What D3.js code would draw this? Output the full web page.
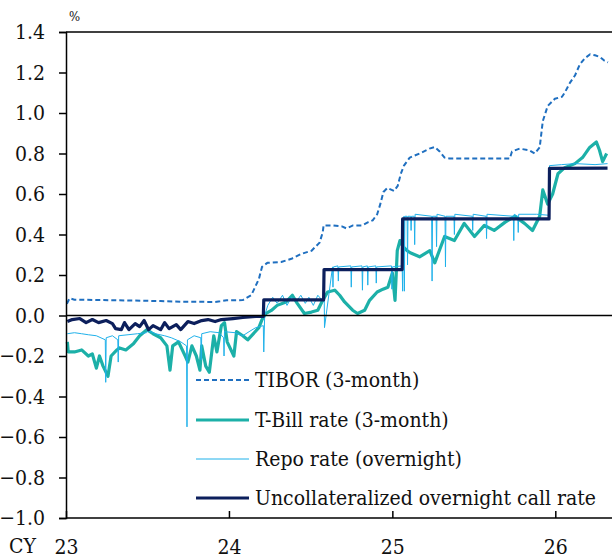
<!DOCTYPE html>
<html>
<head>
<meta charset="utf-8">
<script src="https://cdn.jsdelivr.net/npm/d3@7"></script>
<style>
	body { margin: 0; background: #ffffff; }
	text { fill: #111111; }
</style>
</head>
<body>
<script>
// Y-axis tick values
var yTicks = [1.4, 1.2, 1.0, 0.8, 0.6, 0.4, 0.2, 0.0, -0.2, -0.4, -0.6, -0.8, -1.0];
// X-axis year ticks and labels
var xTickDates = ["2023-01-01", "2024-01-01", "2025-01-01", "2026-01-01"];
var xTickLabels = ["23", "24", "25", "26"];

// TIBOR (3-month)
var tiborDates = ["2023-01-03","2023-01-09","2023-01-20","2023-03-01","2023-06-01","2023-08-01","2023-09-15","2023-12-01","2023-12-12","2023-12-27",
	"2024-02-01","2024-02-20","2024-03-08","2024-03-15","2024-03-27","2024-04-27","2024-05-20","2024-06-12","2024-07-04","2024-07-22",
	"2024-07-29","2024-07-31","2024-08-20","2024-09-10","2024-09-20","2024-10-05","2024-10-25","2024-11-07","2024-11-18","2024-11-28",
	"2024-12-05","2024-12-12","2024-12-21","2025-01-05","2025-01-13","2025-01-20","2025-01-27",
	"2025-02-09","2025-03-03","2025-03-25","2025-04-06","2025-04-17","2025-04-28","2025-05-09","2025-07-16","2025-09-21","2025-09-26",
	"2025-10-13","2025-11-04","2025-11-16","2025-11-27","2025-12-04","2025-12-15","2025-12-31","2026-01-16","2026-01-22","2026-02-03",
	"2026-02-14","2026-02-25","2026-03-08","2026-03-20","2026-03-31","2026-04-11","2026-04-20","2026-04-29"];
var tiborValues = [0.058,0.085,0.078,0.077,0.074,0.071,0.068,0.067,0.070,0.075,
	0.076,0.100,0.180,0.240,0.260,0.264,0.280,0.305,0.320,0.360,
	0.410,0.445,0.445,0.440,0.430,0.445,0.445,0.460,0.470,0.500,
	0.550,0.610,0.630,0.615,0.640,0.700,0.740,
	0.780,0.800,0.824,0.832,0.810,0.780,0.775,0.775,0.775,0.810,
	0.824,0.816,0.800,0.830,0.960,1.035,1.070,1.080,1.100,1.150,
	1.185,1.240,1.270,1.290,1.285,1.277,1.260,1.250];

// T-Bill rate (3-month)
var tbillDates = ["2023-01-04","2023-01-06","2023-01-20","2023-02-05","2023-02-20","2023-03-01","2023-03-10","2023-03-17","2023-03-25","2023-04-05",
	"2023-04-12","2023-04-25","2023-05-01","2023-05-15","2023-06-01","2023-06-15","2023-07-01","2023-07-15","2023-08-01","2023-08-15",
	"2023-08-22","2023-08-28","2023-09-10","2023-09-25","2023-10-01","2023-10-10","2023-10-20","2023-10-28","2023-11-01","2023-11-10",
	"2023-11-18","2023-11-28","2023-12-05","2023-12-15","2023-12-22","2023-12-28","2024-01-12","2024-01-18","2024-02-01","2024-02-12",
	"2024-03-08","2024-03-15","2024-03-24","2024-04-05","2024-04-18","2024-05-08","2024-05-22","2024-06-02","2024-06-18","2024-07-04",
	"2024-07-18","2024-07-29","2024-08-09","2024-08-25","2024-09-05","2024-09-16","2024-10-04","2024-10-15","2024-10-31","2024-11-11",
	"2024-11-28","2024-12-11","2024-12-22","2025-01-01","2025-01-07","2025-01-12","2025-01-18","2025-01-25",
	"2025-02-03","2025-02-10","2025-03-03","2025-03-26","2025-04-06","2025-04-28","2025-05-20","2025-06-11","2025-07-04","2025-07-26",
	"2025-08-17","2025-09-10","2025-10-02","2025-10-24","2025-11-11","2025-11-27","2025-12-04","2025-12-15","2025-12-26","2026-01-07",
	"2026-01-22","2026-02-14","2026-03-03","2026-03-19","2026-04-03","2026-04-10","2026-04-17","2026-04-26"];
var tbillValues = [-0.13,-0.18,-0.18,-0.17,-0.20,-0.19,-0.26,-0.20,-0.25,-0.30,
	-0.20,-0.17,-0.16,-0.17,-0.14,-0.10,-0.07,-0.09,-0.11,-0.15,
	-0.27,-0.15,-0.13,-0.20,-0.23,-0.15,-0.20,-0.27,-0.15,-0.25,
	-0.28,-0.10,-0.18,-0.05,-0.035,-0.13,-0.20,-0.08,-0.10,-0.12,
	-0.06,-0.02,0.01,0.025,0.05,0.067,0.10,0.06,0.01,0.017,
	0.026,0.075,0.116,0.125,0.10,0.067,0.026,0.01,0.026,0.075,
	0.116,0.13,0.14,0.21,0.075,0.32,0.37,0.34,
	0.32,0.31,0.29,0.32,0.26,0.39,0.37,0.455,0.39,0.445,
	0.42,0.46,0.49,0.455,0.42,0.49,0.62,0.55,0.60,0.70,
	0.73,0.75,0.78,0.83,0.857,0.816,0.76,0.80];

// Repo rate (overnight)
var repoDates = ["2023-01-04","2023-01-20","2023-02-05","2023-02-20","2023-03-10","2023-03-30","2023-03-31","2023-04-01","2023-04-15","2023-04-27",
	"2023-04-28","2023-04-29","2023-05-20","2023-06-10","2023-06-30","2023-07-05","2023-07-20","2023-08-10","2023-08-25","2023-09-15",
	"2023-09-28","2023-09-29","2023-09-30","2023-10-15","2023-10-30","2023-10-31","2023-11-01","2023-11-20","2023-12-10","2023-12-20",
	"2023-12-21","2023-12-22","2024-01-15","2024-02-01","2024-02-15","2024-03-01","2024-03-18","2024-03-19","2024-03-21","2024-03-28",
	"2024-04-08","2024-04-18","2024-04-30","2024-05-10","2024-05-20","2024-05-31","2024-06-10","2024-06-20","2024-06-28","2024-07-08",
	"2024-07-18","2024-07-30","2024-07-31","2024-08-01","2024-08-02","2024-08-20","2024-08-21","2024-08-22","2024-09-01","2024-09-02",
	"2024-09-03","2024-09-30","2024-10-01","2024-10-02","2024-10-25","2024-10-26","2024-10-27","2024-11-06","2024-11-07","2024-11-08",
	"2024-11-25","2024-11-26","2024-11-27","2024-12-30","2024-12-31","2025-01-01","2025-01-23","2025-01-24",
	"2025-01-27","2025-01-28","2025-01-29","2025-02-03","2025-02-04","2025-02-05","2025-02-11","2025-02-12","2025-02-13","2025-02-19",
	"2025-02-20","2025-02-21","2025-03-30","2025-03-31","2025-04-01","2025-04-09","2025-04-10","2025-04-11","2025-04-29","2025-04-30",
	"2025-05-01","2025-05-19","2025-05-20","2025-05-21","2025-06-29","2025-06-30","2025-07-01","2025-07-30","2025-07-31","2025-08-01",
	"2025-09-29","2025-09-30","2025-10-01","2025-10-09","2025-10-10","2025-10-11","2025-11-20","2025-12-18","2025-12-19","2026-01-15",
	"2026-02-15","2026-03-31","2026-04-28"];
var repoValues = [-0.09,-0.085,-0.09,-0.095,-0.10,-0.12,-0.33,-0.11,-0.10,-0.12,
	-0.23,-0.10,-0.095,-0.09,-0.085,-0.075,-0.09,-0.10,-0.11,-0.13,
	-0.15,-0.55,-0.12,-0.10,-0.11,-0.22,-0.09,-0.08,-0.085,-0.11,
	-0.20,-0.08,-0.085,-0.10,-0.08,-0.06,-0.05,-0.18,0.00,0.05,
	0.09,0.06,0.10,0.05,0.09,0.07,0.10,0.06,0.09,0.05,
	0.10,0.07,0.12,0.20,-0.06,0.24,0.14,0.24,0.245,0.17,
	0.24,0.245,0.14,0.24,0.245,0.125,0.24,0.245,0.15,0.24,
	0.245,0.16,0.24,0.245,0.13,0.24,0.245,0.12,
	0.49,0.12,0.49,0.49,0.25,0.49,0.49,0.42,0.49,0.49,
	0.35,0.50,0.49,0.17,0.49,0.49,0.34,0.50,0.49,0.24,
	0.49,0.49,0.40,0.50,0.49,0.42,0.50,0.49,0.38,0.50,
	0.49,0.37,0.50,0.49,0.41,0.50,0.50,0.495,0.74,0.745,
	0.75,0.745,0.75];

// Uncollateralized overnight call rate
var callDates = ["2023-01-04","2023-01-15","2023-02-01","2023-02-15","2023-03-01","2023-03-15","2023-04-01","2023-04-15","2023-04-22","2023-05-05",
	"2023-05-12","2023-05-22","2023-06-05","2023-06-15","2023-06-25","2023-07-05","2023-07-15","2023-08-01","2023-08-10","2023-08-20",
	"2023-09-05","2023-09-15","2023-10-01","2023-10-15","2023-11-01","2023-11-15","2023-12-01","2023-12-15","2024-01-10","2024-02-01",
	"2024-03-01","2024-03-18","2024-03-19","2024-07-31","2024-08-01","2025-01-23","2025-01-24","2025-12-18","2025-12-19","2026-04-28"];
var callValues = [-0.03,-0.02,-0.015,-0.035,-0.02,-0.035,-0.025,-0.04,-0.065,-0.07,
	-0.035,-0.07,-0.04,-0.055,-0.025,-0.07,-0.05,-0.07,-0.035,-0.065,
	-0.045,-0.07,-0.03,-0.04,-0.025,-0.02,-0.03,-0.02,-0.015,-0.01,
	-0.005,-0.005,0.077,0.077,0.227,0.227,0.477,0.477,0.727,0.728];

// Legend labels
var legendLabels = ["TIBOR (3-month)", "T-Bill rate (3-month)", "Repo rate (overnight)", "Uncollateralized overnight call rate"];

// Width and height
var width = 612;
var height = 558;
var margin = {top: 32, right: 0, bottom: 40, left: 66};
var serif = "'DejaVu Serif Condensed', 'DejaVu Serif', serif";

var parseDate = d3.timeParse("%Y-%m-%d");

var svg = d3.select("body")
	.append("svg")
	.attr("width", width)
	.attr("height", height);

// Scales
var xScale = d3.scaleTime()
	.domain([parseDate("2023-01-01"), parseDate("2026-05-08")])
	.range([margin.left, width - margin.right]);

var yScale = d3.scaleLinear()
	.domain([-1.0, 1.4])
	.range([height - margin.bottom, margin.top]);

// Series styles
var series = [
	{label: legendLabels[0], dates: tiborDates, values: tiborValues, color: "#1f6fc0", width: 2, dash: "5,3"},
	{label: legendLabels[1], dates: tbillDates, values: tbillValues, color: "#1cb0a8", width: 3.2, dash: null},
	{label: legendLabels[2], dates: repoDates, values: repoValues, color: "#1fb1ea", width: 1, dash: null},
	{label: legendLabels[3], dates: callDates, values: callValues, color: "#0c1f5c", width: 3.2, dash: null}
];

var line = d3.line()
	.x(function(d) { return xScale(d.date); })
	.y(function(d) { return yScale(d.value); });

// Draw each series
series.forEach(function(s) {
	var pts = s.dates.map(function(d, i) {
		return {date: parseDate(d), value: s.values[i]};
	});
	svg.append("path")
		.datum(pts)
		.attr("fill", "none")
		.attr("stroke", s.color)
		.attr("stroke-width", s.width)
		.attr("stroke-linejoin", "round")
		.attr("stroke-dasharray", s.dash)
		.attr("d", line);
});

// Zero line and top border
svg.append("line")
	.attr("x1", margin.left).attr("x2", width)
	.attr("y1", yScale(0)).attr("y2", yScale(0))
	.attr("stroke", "#000").attr("stroke-width", 1.5);

svg.append("line")
	.attr("x1", margin.left).attr("x2", width)
	.attr("y1", yScale(1.4)).attr("y2", yScale(1.4))
	.attr("stroke", "#000").attr("stroke-width", 1.5);

// Y axis
var yAxis = d3.axisLeft(yScale)
	.tickValues(yTicks)
	.tickSize(7)
	.tickPadding(14)
	.tickFormat(d3.format(".1f"));

var gy = svg.append("g")
	.attr("transform", "translate(" + margin.left + ",0)")
	.call(yAxis);
gy.select(".domain").attr("stroke-width", 1.5);
gy.selectAll("line").attr("stroke-width", 1.5);
gy.selectAll("text")
	.style("font-family", serif)
	.style("font-stretch", "condensed")
	.style("font-size", "21px")
	.attr("fill", "#111");

// X axis (ticks point up into the plot)
var xAxis = d3.axisBottom(xScale)
	.tickValues(xTickDates.map(parseDate))
	.tickSize(-7)
	.tickPadding(21)
	.tickFormat(function(d, i) { return xTickLabels[i]; });

var gx = svg.append("g")
	.attr("transform", "translate(0," + (height - margin.bottom) + ")")
	.call(xAxis);
gx.select(".domain").attr("stroke-width", 1.5).attr("d", "M" + margin.left + ",0H" + width);
gx.selectAll("line").attr("stroke-width", 1.5);
gx.selectAll("text")
	.style("font-family", serif)
	.style("font-stretch", "condensed")
	.style("font-size", "21px")
	.attr("fill", "#111");

svg.append("text")
	.attr("x", 9)
	.attr("y", 553)
	.style("font-family", serif)
	.style("font-stretch", "condensed")
	.style("font-size", "21px")
	.text("CY");

// Unit label
svg.append("text")
	.attr("x", 69)
	.attr("y", 21)
	.style("font-family", serif)
	.style("font-stretch", "condensed")
	.style("font-size", "13px")
	.text("%");

// Legend
var legend = svg.append("g");
var legendY = [380, 420, 459, 498];
series.forEach(function(s, i) {
	legend.append("line")
		.attr("x1", 196).attr("x2", 249)
		.attr("y1", legendY[i]).attr("y2", legendY[i])
		.attr("stroke", s.color)
		.attr("stroke-width", s.width)
		.attr("stroke-dasharray", s.dash);
	legend.append("text")
		.attr("x", 255)
		.attr("y", legendY[i])
		.attr("dy", "0.35em")
		.style("font-family", serif)
		.style("font-stretch", "condensed")
		.style("font-size", "21px")
		.text(s.label);
});
</script>
</body>
</html>
